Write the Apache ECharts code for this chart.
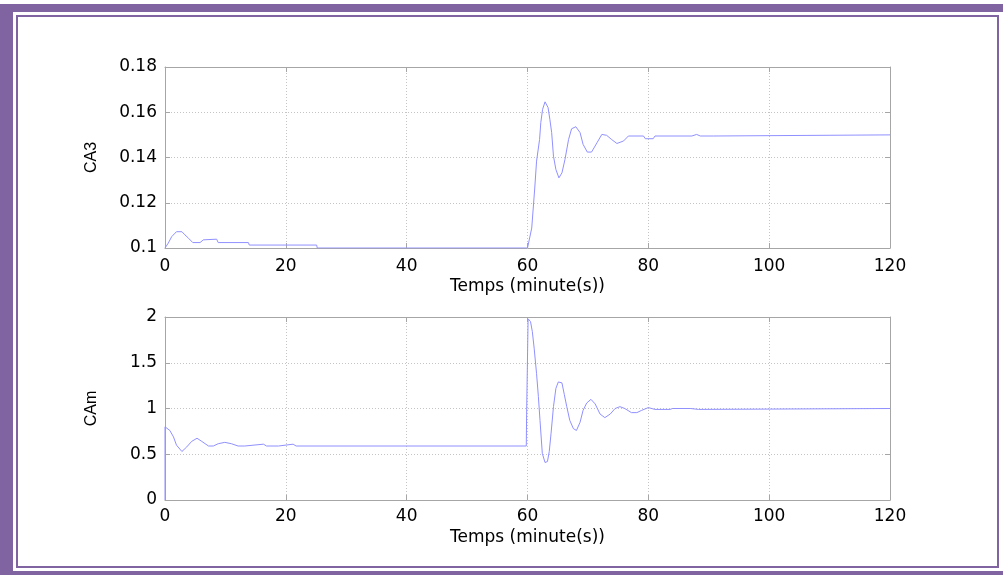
<!DOCTYPE html>
<html>
<head>
<meta charset="utf-8">
<script src="https://cdn.jsdelivr.net/npm/echarts@6/dist/echarts.min.js"></script>
<style>
html,body{margin:0;padding:0;background:#fff;}
#chart{width:1003px;height:575px;}
</style>
</head>
<body>
<div id="chart"></div>
<script>
// ---- Data ----
const xAxisLabel = 'Temps (minute(s))';
const topYLabel = 'CA3';
const bottomYLabel = 'CAm';

const ca3Time = [0, 0.55, 1.1, 1.9, 2.8, 3.3, 3.9, 4.6, 5.8, 6.35, 6.6, 8.55, 8.8, 13.8, 13.95, 25.1, 25.2,
  60.0, 60.7, 61.2, 61.5, 62.0, 62.2, 62.5, 62.9, 63.4, 63.7, 64.0, 64.3, 64.7, 65.2, 65.7, 66.2, 66.8, 67.3,
  68.0, 68.7, 69.2, 69.9, 70.6, 71.5, 72.3, 73.1, 73.9, 74.8, 75.9, 76.7, 79.2, 79.5, 80.8, 81.1, 87.2, 88.0,
  88.6, 90.8, 91.0, 120];
const ca3Values = [0.1, 0.1022, 0.105, 0.1072, 0.1072, 0.1058, 0.1043, 0.1024, 0.1024, 0.1036, 0.1039, 0.1039, 0.1024, 0.1024, 0.1013, 0.1013, 0.1,
  0.1, 0.1088, 0.1265, 0.1384, 0.148, 0.1554, 0.1613, 0.1646, 0.1621, 0.1569, 0.151, 0.1406, 0.1347, 0.131, 0.1332, 0.1391, 0.148, 0.1527,
  0.1536, 0.151, 0.1458, 0.1424, 0.1424, 0.1465, 0.1502, 0.1498, 0.148, 0.1462, 0.1473, 0.1495, 0.1495, 0.1483, 0.1483, 0.1495, 0.1495, 0.1502,
  0.1495, 0.1495, 0.15, 0.15];

const camTime = [0, 0, 0.8, 1.4, 1.9, 2.8, 3.6, 4.4, 5.3, 6.1, 7.2, 8.0, 8.8, 9.9, 11.0, 12.1, 13.2, 13.5, 16.3, 16.8, 18.8, 19.0, 21.2, 21.7,
  59.8, 59.85, 60.1, 60.5, 60.8, 61.1, 61.5, 61.8, 62.07, 62.45, 62.9, 63.3, 63.6, 63.9, 64.3, 64.7, 65.1, 65.7, 66.1, 66.5, 67.0, 67.6, 68.1,
  68.7, 69.2, 69.8, 70.5, 71.2, 72.0, 72.8, 73.7, 74.5, 75.3, 76.1, 77.2, 78.1, 78.9, 80.0, 81.1, 83.6, 84.0, 87.0, 87.3, 88.3, 88.5, 120];
const camValues = [0, 0.8, 0.76, 0.69, 0.60, 0.53, 0.58, 0.64, 0.675, 0.64, 0.59, 0.59, 0.615, 0.63, 0.615, 0.59, 0.59, 0.61, 0.61, 0.59, 0.59, 0.61, 0.61, 0.59,
  0.59, 0.93, 1.98, 1.95, 1.84, 1.66, 1.38, 1.13, 0.87, 0.51, 0.41, 0.42, 0.53, 0.73, 1.02, 1.22, 1.29, 1.28, 1.15, 1.02, 0.87, 0.78, 0.76,
  0.85, 0.98, 1.06, 1.10, 1.05, 0.94, 0.90, 0.94, 1.0, 1.02, 1.0, 0.955, 0.955, 0.98, 1.01, 0.99, 0.99, 1.0, 1.0, 0.99, 0.99, 1.0, 1.0];

const xMin = 0, xMax = 120, xStep = 20;
const topYMin = 0.1, topYMax = 0.18, topYStep = 0.02;
const botYMin = 0, botYMax = 2, botYStep = 0.5;

// ---- Styling ----
const WIDE_FONT = "'DejaVu Sans', Verdana, sans-serif";
const FONT = "'Liberation Sans', Arial, sans-serif";
const axisGray = '#a6a6a6';
const gridGray = '#c4c4c4';
const lineBlue = '#9090ff';
const purple = '#8064a2';

function zip(a, b) { return a.map((v, i) => [v, b[i]]); }

function mainX(gridIndex, margin, gap) {
  return {
    type: 'value', gridIndex, min: xMin, max: xMax, interval: xStep, position: 'bottom',
    name: xAxisLabel, nameLocation: 'middle', nameGap: gap,
    nameTextStyle: { color: '#000', fontSize: 17, fontFamily: WIDE_FONT },
    axisLine: { show: true, onZero: false, lineStyle: { color: axisGray, width: 1 } },
    axisTick: { show: true, inside: true, length: 5, lineStyle: { color: axisGray } },
    axisLabel: { color: '#000', fontSize: 17, fontFamily: WIDE_FONT, margin },
    splitLine: { show: true, lineStyle: { color: gridGray, type: [1, 2], width: 1 } }
  };
}
function boxX(gridIndex) {
  return {
    type: 'value', gridIndex, min: xMin, max: xMax, interval: xStep, position: 'top',
    axisLine: { show: true, onZero: false, lineStyle: { color: axisGray, width: 1 } },
    axisTick: { show: true, inside: true, length: 5, lineStyle: { color: axisGray } },
    axisLabel: { show: false }, splitLine: { show: false }
  };
}
function mainY(gridIndex, min, max, step, name, gap) {
  return {
    type: 'value', gridIndex, min, max, interval: step, position: 'left',
    name, nameLocation: 'middle', nameGap: gap, nameRotate: 90,
    nameTextStyle: { color: '#000', fontSize: 16, fontFamily: FONT },
    axisLine: { show: true, onZero: false, lineStyle: { color: axisGray, width: 1 } },
    axisTick: { show: true, inside: true, length: 5, lineStyle: { color: axisGray } },
    axisLabel: { color: '#000', fontSize: 17, fontFamily: WIDE_FONT, margin: 8 },
    splitLine: { show: true, lineStyle: { color: gridGray, type: [1, 2], width: 1 } }
  };
}
function boxY(gridIndex, min, max, step) {
  return {
    type: 'value', gridIndex, min, max, interval: step, position: 'right',
    axisLine: { show: true, onZero: false, lineStyle: { color: axisGray, width: 1 } },
    axisTick: { show: true, inside: true, length: 5, lineStyle: { color: axisGray } },
    axisLabel: { show: false }, splitLine: { show: false }
  };
}

const chart = echarts.init(document.getElementById('chart'), null, { renderer: 'canvas' });
chart.setOption({
  animation: false,
  backgroundColor: '#fff',
  grid: [
    { left: 165, top: 67, width: 725, height: 181 },
    { left: 165, top: 317, width: 725, height: 183 }
  ],
  xAxis: [mainX(0, 10, 30), boxX(0), mainX(1, 8, 29), boxX(1)],
  yAxis: [
    mainY(0, topYMin, topYMax, topYStep, topYLabel, 65),
    boxY(0, topYMin, topYMax, topYStep),
    mainY(1, botYMin, botYMax, botYStep, bottomYLabel, 65),
    boxY(1, botYMin, botYMax, botYStep)
  ],
  series: [
    { type: 'line', xAxisIndex: 0, yAxisIndex: 0, data: zip(ca3Time, ca3Values),
      showSymbol: false, lineStyle: { color: lineBlue, width: 1 }, silent: true },
    { type: 'line', xAxisIndex: 2, yAxisIndex: 2, data: zip(camTime, camValues),
      showSymbol: false, lineStyle: { color: lineBlue, width: 1 }, silent: true }
  ],
  graphic: [
    // thick outer frame (top, left, bottom)
    { type: 'rect', shape: { x: 0, y: 4, width: 1003, height: 8 }, style: { fill: purple }, silent: true },
    { type: 'rect', shape: { x: 0, y: 4, width: 13, height: 571 }, style: { fill: purple }, silent: true },
    { type: 'rect', shape: { x: 0, y: 571, width: 1003, height: 4 }, style: { fill: purple }, silent: true },
    // thin inner frame
    { type: 'rect', shape: { x: 17, y: 16, width: 981, height: 551 },
      style: { fill: 'none', stroke: purple, lineWidth: 2 }, silent: true }
  ]
});
</script>
</body>
</html>
